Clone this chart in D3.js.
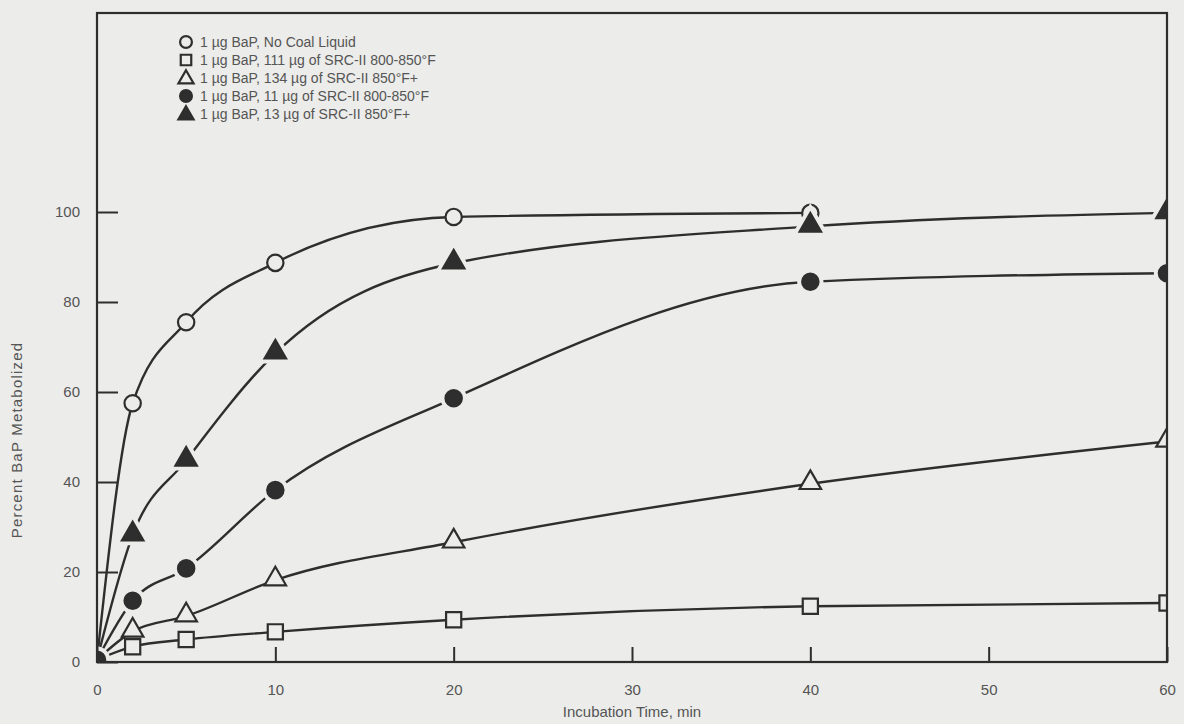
<!DOCTYPE html>
<html>
<head>
<meta charset="utf-8">
<script src="https://cdn.jsdelivr.net/npm/d3@7/dist/d3.min.js"></script>
<style>
  html, body { margin: 0; padding: 0; background: #ececea; }
  svg { display: block; }
  text { font-family: "Liberation Sans", Arial, Helvetica, sans-serif; fill: #555; }
</style>
</head>
<body>
<svg id="chart" width="1184" height="724"></svg>
<script>
// Incubation times (min)
const times = [0, 2, 5, 10, 20, 40, 60];

// Percent BaP metabolized for each condition (null = not measured)
const noCoalLiquid   = [0.5, 57.5, 75.5, 88.7, 98.9, 99.8, null];
const src800_111     = [0.5, 3.4, 5.0, 6.7, 9.4, 12.4, 13.1];
const src850_134     = [0.5, 6.8, 10.2, 18.2, 26.6, 39.6, 49.0];
const src800_11      = [0.5, 13.6, 20.8, 38.2, 58.6, 84.5, 86.4];
const src850_13      = [0.5, 28.2, 44.8, 68.6, 88.6, 96.8, 99.8];

// Axis ticks
const xTicks = [0, 10, 20, 30, 40, 50, 60];
const yTicks = [0, 20, 40, 60, 80, 100];

// Legend labels
const legendLabels = [
  "1 \u00b5g BaP, No Coal Liquid",
  "1 \u00b5g BaP, 111 \u00b5g of SRC-II 800-850\u00b0F",
  "1 \u00b5g BaP, 134 \u00b5g of SRC-II 850\u00b0F+",
  "1 \u00b5g BaP, 11 \u00b5g of SRC-II 800-850\u00b0F",
  "1 \u00b5g BaP, 13 \u00b5g of SRC-II 850\u00b0F+"
];

const series = [
  { values: noCoalLiquid, shape: "circle",   filled: false },
  { values: src800_111,   shape: "square",   filled: false },
  { values: src850_134,   shape: "triangle", filled: false },
  { values: src800_11,    shape: "circle",   filled: true, originMark: true },
  { values: src850_13,    shape: "triangle", filled: true }
];

const ink = "#2e2e2e";
const bg = "#ececea";

const svg = d3.select("#chart");
const frameL = 97, frameR = 1167, frameT = 13, frameB = 662;

const x = d3.scaleLinear().domain([0, 60]).range([frameL, frameR]);
const y = d3.scaleLinear().domain([0, 100]).range([frameB, 212]);

// clip region for marks
svg.append("defs").append("clipPath").attr("id", "plot")
  .append("rect").attr("x", frameL).attr("y", frameT)
  .attr("width", frameR - frameL).attr("height", frameB - frameT);

const symbolSize = { circle: 210, square: 230, triangle: 200 };
const symbolType = { circle: d3.symbolCircle, square: d3.symbolSquare, triangle: d3.symbolTriangle };

function symbolPath(shape, size) {
  return d3.symbol().type(symbolType[shape]).size(size)();
}

const line = d3.line()
  .x(d => x(d[0])).y(d => y(d[1]))
  .curve(d3.curveMonotoneX);

const plot = svg.append("g").attr("clip-path", "url(#plot)");

// curves
series.forEach(s => {
  const pts = times.map((t, i) => [t, s.values[i]]).filter(d => d[1] !== null);
  plot.append("path")
    .datum(pts)
    .attr("d", line)
    .attr("fill", "none")
    .attr("stroke", ink)
    .attr("stroke-width", 2.4);
});

// markers
series.forEach(s => {
  const pts = times.map((t, i) => [t, s.values[i]])
    .filter((d, i) => d[1] !== null && (i > 0 || s.originMark));
  const g = plot.append("g");
  const yOff = s.shape === "triangle" ? -1 : 0;
  if (s.filled) {
    // background halo so the curve stops short of solid markers
    g.selectAll("path.halo").data(pts).join("path")
      .attr("class", "halo")
      .attr("d", symbolPath(s.shape, symbolSize[s.shape]))
      .attr("transform", d => `translate(${x(d[0])},${y(d[1]) + yOff})`)
      .attr("fill", bg).attr("stroke", bg).attr("stroke-width", 10);
  }
  g.selectAll("path.mark").data(pts).join("path")
    .attr("class", "mark")
    .attr("d", symbolPath(s.shape, symbolSize[s.shape]))
    .attr("transform", d => `translate(${x(d[0])},${y(d[1]) + yOff})`)
    .attr("fill", s.filled ? ink : bg)
    .attr("stroke", ink)
    .attr("stroke-width", 2.2);
});

// frame
svg.append("rect")
  .attr("x", frameL).attr("y", frameT)
  .attr("width", frameR - frameL).attr("height", frameB - frameT)
  .attr("fill", "none").attr("stroke", ink).attr("stroke-width", 2.2);

// x axis ticks (inward) and labels
const xAxis = d3.axisBottom(x).tickValues(xTicks).tickSizeInner(-15).tickSizeOuter(0).tickPadding(22);
const gx = svg.append("g").attr("transform", `translate(0,${frameB})`).call(xAxis);
gx.select(".domain").remove();
gx.selectAll(".tick line").attr("stroke", ink).attr("stroke-width", 2);
gx.selectAll(".tick text").attr("font-size", 15).style("fill", "#555");

// y axis ticks (inward) and labels
const yAxis = d3.axisLeft(y).tickValues(yTicks).tickSizeInner(-21).tickSizeOuter(0).tickPadding(17);
const gy = svg.append("g").attr("transform", `translate(${frameL},0)`).call(yAxis);
gy.select(".domain").remove();
gy.selectAll(".tick line").attr("stroke", ink).attr("stroke-width", 2);
gy.selectAll(".tick text").attr("font-size", 15).style("fill", "#555");

// axis titles
svg.append("text")
  .attr("x", (frameL + frameR) / 2).attr("y", 717)
  .attr("text-anchor", "middle").attr("font-size", 15)
  .text("Incubation Time, min");

svg.append("text")
  .attr("transform", `translate(22,${(frameB + 212) / 2 + 3}) rotate(-90)`)
  .attr("text-anchor", "middle").attr("font-size", 15)
  .attr("letter-spacing", 1.2)
  .text("Percent BaP Metabolized");

// legend
const legend = svg.append("g").attr("transform", "translate(186,42)");
series.forEach((s, i) => {
  const row = legend.append("g").attr("transform", `translate(0,${i * 18})`);
  row.append("path")
    .attr("d", symbolPath(s.shape, s.shape === "triangle" ? 100 : 110))
    .attr("transform", `translate(0,${s.shape === "triangle" ? 1 : 0})`)
    .attr("fill", s.filled ? ink : bg)
    .attr("stroke", ink).attr("stroke-width", 2.2);
  row.append("text")
    .attr("x", 14).attr("y", 5)
    .attr("font-size", 14)
    .text(legendLabels[i]);
});
</script>
</body>
</html>
